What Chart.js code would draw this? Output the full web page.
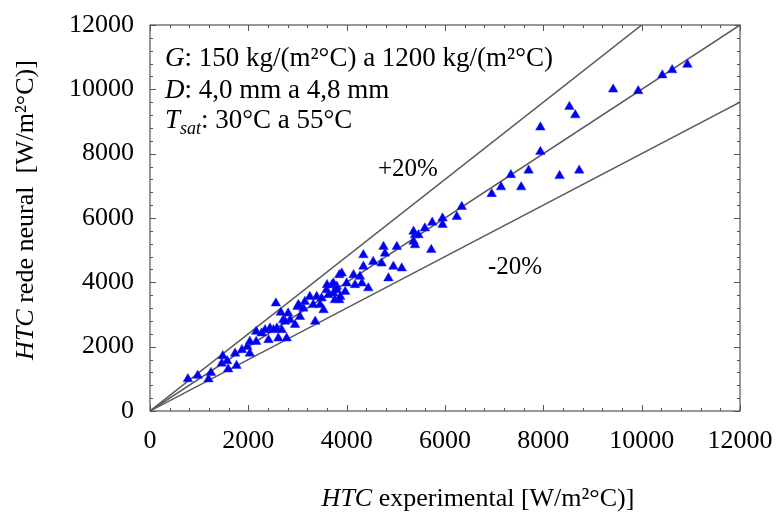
<!DOCTYPE html>
<html><head><meta charset="utf-8">
<script src="https://cdn.jsdelivr.net/npm/chart.js@4/dist/chart.umd.min.js"></script>
<style>html,body{margin:0;padding:0;background:#fff}#wrap{width:778px;height:512px;position:relative}</style>
</head><body><div id="wrap"><canvas id="c" width="778" height="512"></canvas></div>
<script>
// ---- data ----
const expHTC = [
  770, 970, 1190, 1240, 1480, 1460, 1570, 1590, 1730, 1760,
  1870, 1980, 2030, 2160, 2160, 2270, 2410, 2440, 2560, 2580,
  2610, 2660, 2710, 2780, 2810, 2850, 2950, 3000, 3120, 3150,
  3250, 3360, 3390, 3460, 3490, 3530, 3590, 3700, 3730, 3760,
  3850, 3850, 3020, 3320, 2750, 2510, 2680, 2340, 2030, 3050,
  3800, 5390, 5390, 4750, 5020, 4780, 4340, 4340, 4540, 4710,
  4950, 5120, 4850, 3900, 4140, 4270, 4310, 4440, 4170, 4000,
  3600, 3730, 3800, 3970, 3630, 3870, 6950, 6340, 6240, 5950,
  5950, 5740, 5590, 5360, 5460, 5360, 5720, 7140, 7340, 7550,
  7700, 7940, 7940, 8330, 8530, 8650, 8730, 9420, 9930, 10420,
  10620, 10930
];
const nnHTC = [
  995, 1100, 990, 1190, 1710, 1480, 1555, 1300, 1790, 1410,
  1900, 2000, 1790, 2470, 2155, 2420, 2210, 2570, 3350, 2570,
  2260, 3060, 2830, 2260, 3040, 2830, 2680, 3240, 3190, 3400,
  3555, 2780, 3555, 3300, 3505, 3140, 3760, 3920, 3660, 3450,
  4230, 3450, 3300, 3300, 2780, 2520, 2520, 2520, 2155, 2930,
  3870, 5470, 5160, 5110, 5110, 4900, 4850, 4490, 4640, 4590,
  4490, 4440, 4130, 4280, 4230, 4180, 3970, 3820, 3920, 3970,
  3920, 3970, 3760, 3710, 3610, 3555, 6750, 6350, 6040, 5990,
  5790, 5860, 5680, 5580, 5470, 5270, 5010, 6960, 7340, 6960,
  7480, 8820, 8060, 7310, 9460, 9200, 7480, 10000, 9950, 10440,
  10600, 10770
];
const lineEnds = [0, 12000];
const refFactors = [1.0, 1.2, 0.8];
const axisMin = 0, axisMax = 12000, majorStep = 2000, minorStep = 400;
const xTitle = ['HTC', ' experimental [W/m²°C)]'];
const yTitle = ['HTC', ' rede neural  [W/m²°C)]'];
const noteLines = [
  ['G', '', ': 150 kg/(m²°C) a 1200 kg/(m²°C)'],
  ['D', '', ': 4,0 mm a 4,8 mm'],
  ['T', 'sat', ': 30°C a 55°C']
];
const bandLabels = ['+20%', '-20%'];

// ---- chart ----
const FAM = "'Liberation Serif','Times New Roman',serif";
const pts = expHTC.map((x, i) => ({x: x, y: nnHTC[i]}));
const refSets = refFactors.map(f => ({
  type: 'line',
  data: lineEnds.map(x => ({x: x, y: x * f})),
  borderColor: '#5a5a5a', borderWidth: 1.5, pointRadius: 0, fill: false, order: 2
}));

function fontStr(it, size) { return (it ? 'italic ' : '') + size + 'px ' + FAM; }
function drawParts(ctx, parts, x, y, size) {
  let cx = x;
  for (const p of parts) {
    const s = p.sub ? Math.round(size * 0.68) : size;
    ctx.font = fontStr(p.it, s);
    ctx.fillText(p.t, cx, y + (p.sub ? size * 0.22 : 0));
    cx += ctx.measureText(p.t).width;
  }
  return cx - x;
}
function partsWidth(ctx, parts, size) {
  let w = 0;
  for (const p of parts) { ctx.font = fontStr(p.it, p.sub ? Math.round(size * 0.68) : size); w += ctx.measureText(p.t).width; }
  return w;
}

const decor = {
  id: 'decor',
  afterDraw(chart) {
    const ctx = chart.ctx, a = chart.chartArea;
    const xs = chart.scales.x, ys = chart.scales.y;
    ctx.save();
    ctx.strokeStyle = '#555555'; ctx.lineWidth = 1.2;
    ctx.strokeRect(a.left, a.top, a.right - a.left, a.bottom - a.top);
    ctx.lineWidth = 1;
    ctx.beginPath();
    for (let v = axisMin; v <= axisMax; v += minorStep) {
      const len = (v % majorStep === 0) ? 6 : 3;
      const px = Math.round(xs.getPixelForValue(v)) + 0.5;
      ctx.moveTo(px, a.bottom); ctx.lineTo(px, a.bottom - len);
      ctx.moveTo(px, a.top); ctx.lineTo(px, a.top + len);
      const py = Math.round(ys.getPixelForValue(v)) + 0.5;
      ctx.moveTo(a.left, py); ctx.lineTo(a.left + len, py);
      ctx.moveTo(a.right, py); ctx.lineTo(a.right - len, py);
    }
    ctx.stroke();

    ctx.fillStyle = '#000';
    ctx.textBaseline = 'alphabetic';
    ctx.textAlign = 'left';
    const xt = [{t: xTitle[0], it: true}, {t: xTitle[1]}];
    const xw = partsWidth(ctx, xt, 26);
    drawParts(ctx, xt, 478 - xw / 2, 506, 26);
    const yt = [{t: yTitle[0], it: true}, {t: yTitle[1]}];
    const yw = partsWidth(ctx, yt, 26);
    ctx.save();
    ctx.translate(33, 210);
    ctx.rotate(-Math.PI / 2);
    drawParts(ctx, yt, -yw / 2, 0, 26);
    ctx.restore();
    const baselines = [66, 98, 128];
    noteLines.forEach((ln, i) => {
      const parts = [{t: ln[0], it: true}];
      if (ln[1]) parts.push({t: ln[1], it: true, sub: true});
      parts.push({t: ln[2]});
      drawParts(ctx, parts, 165, baselines[i], 27);
    });
    ctx.font = fontStr(false, 25);
    ctx.fillText(bandLabels[0], 378, 176);
    ctx.fillText(bandLabels[1], 488, 274);
    ctx.restore();
  }
};

new Chart(document.getElementById('c'), {
  data: {
    datasets: [
      {
        type: 'scatter', data: pts, pointStyle: 'triangle', pointRadius: 5.5,
        backgroundColor: '#0000f0', borderColor: '#1e1eff', borderWidth: 0.5, order: 1
      },
      ...refSets
    ]
  },
  options: {
    responsive: false, animation: false,
    layout: {padding: {top: 25, right: 38, left: 0, bottom: 0}},
    plugins: {legend: {display: false}, tooltip: {enabled: false}},
    scales: {
      x: {
        type: 'linear', min: axisMin, max: axisMax,
        grid: {display: false, drawTicks: false}, border: {display: false},
        ticks: {stepSize: majorStep, color: '#000', padding: 15, font: {family: FAM, size: 26},
                callback: v => String(v)},
        afterFit(s) { s.height = 101; s.paddingLeft = 0; s.paddingRight = 0; }
      },
      y: {
        type: 'linear', min: axisMin, max: axisMax,
        grid: {display: false, drawTicks: false}, border: {display: false},
        ticks: {stepSize: majorStep, color: '#000', padding: 16, font: {family: FAM, size: 26},
                callback: v => String(v)},
        afterFit(s) { s.width = 150; s.paddingTop = 0; s.paddingBottom = 0; }
      }
    }
  },
  plugins: [decor]
});
</script>
</body></html>
